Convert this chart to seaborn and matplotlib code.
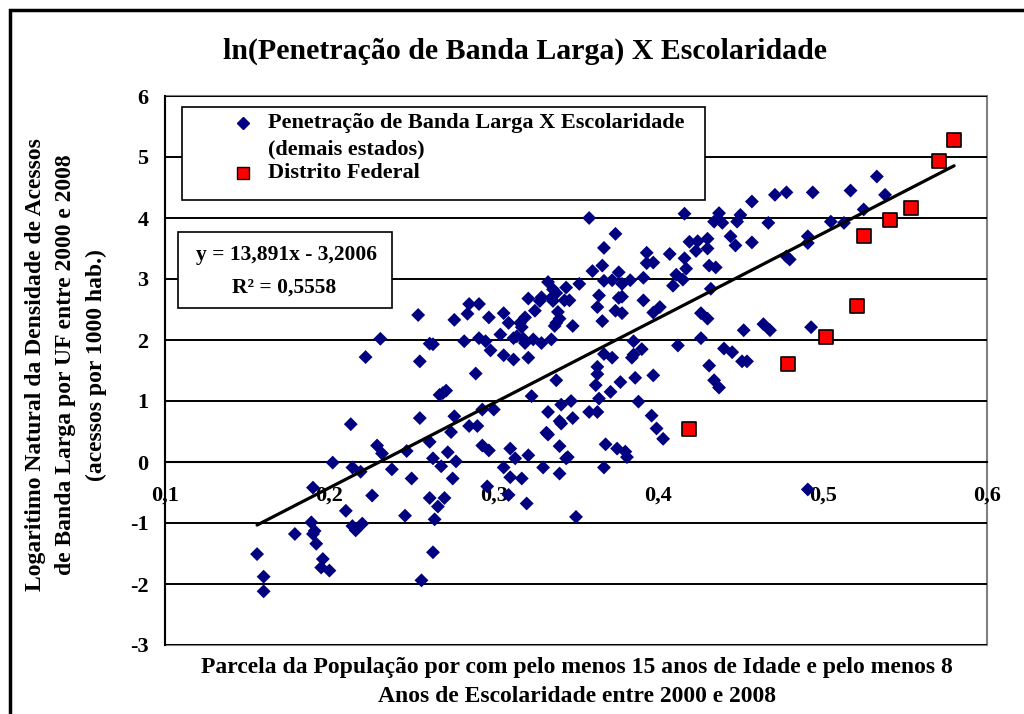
import matplotlib
matplotlib.use('Agg')
import matplotlib.pyplot as plt
import seaborn as sns
import numpy as np
from matplotlib.patches import Rectangle
from matplotlib.lines import Line2D

sns.set_style('white')
plt.rcParams['font.family'] = ['Liberation Serif', 'DejaVu Serif']
plt.rcParams['font.weight'] = 'bold'
plt.rcParams['axes.unicode_minus'] = False
plt.rcParams['text.color'] = 'black'
plt.rcParams['xtick.color'] = 'black'
plt.rcParams['ytick.color'] = 'black'

# demais estados: escolaridade (x) e ln da penetracao de banda larga (y)
escolaridade_estados = [
    0.213, 0.202, 0.214, 0.190, 0.210, 0.214, 0.216, 0.189, 0.179, 0.191, 0.190, 0.192, 0.156, 0.196, 0.195, 0.200, 0.160, 0.160,
    0.285, 0.291, 0.284, 0.297, 0.254, 0.276, 0.231, 0.261, 0.263, 0.282, 0.291, 0.295, 0.298, 0.222, 0.255, 0.289, 0.267, 0.269,
    0.271, 0.255, 0.276, 0.293, 0.300, 0.285, 0.290, 0.274, 0.229, 0.232, 0.247, 0.261, 0.272, 0.293, 0.297, 0.219, 0.238, 0.263,
    0.268, 0.277, 0.250, 0.275, 0.296, 0.226, 0.261, 0.266, 0.270, 0.246, 0.264, 0.220, 0.263, 0.256,
    0.358, 0.374, 0.367, 0.360, 0.366, 0.376, 0.333, 0.352, 0.344, 0.336, 0.338, 0.367, 0.372, 0.378, 0.383, 0.321, 0.329, 0.328,
    0.335, 0.336, 0.343, 0.346, 0.364, 0.376, 0.378,
    0.306, 0.309, 0.319, 0.325, 0.339, 0.340, 0.338, 0.337, 0.363, 0.366, 0.374, 0.378, 0.316, 0.317, 0.348, 0.304, 0.312, 0.314,
    0.318, 0.319, 0.324, 0.329, 0.335, 0.306, 0.312, 0.321, 0.367, 0.372, 0.385, 0.385, 0.384,
    0.363, 0.363, 0.362, 0.338, 0.377, 0.386, 0.371, 0.323, 0.364, 0.341, 0.347, 0.333, 0.358, 0.363, 0.340, 0.341, 0.348, 0.388,
    0.332, 0.333,
    0.310, 0.313, 0.321, 0.340, 0.345, 0.344, 0.368, 0.375, 0.380, 0.381, 0.306, 0.310, 0.317, 0.330, 0.340, 0.367, 0.309, 0.320,
    0.350,
    0.471, 0.478, 0.457, 0.416, 0.437, 0.434, 0.439, 0.450, 0.448, 0.467, 0.444, 0.447, 0.457, 0.419, 0.424, 0.430, 0.423, 0.430,
    0.393, 0.393, 0.397, 0.407, 0.416, 0.431, 0.435, 0.417, 0.478, 0.480, 0.411, 0.415, 0.391, 0.409, 0.432,
    0.391, 0.397, 0.401, 0.426, 0.430, 0.452, 0.464, 0.468, 0.426, 0.390, 0.412, 0.440, 0.445, 0.451, 0.454, 0.431, 0.397, 0.434,
    0.437, 0.396, 0.399, 0.403,
    0.494, 0.517, 0.533, 0.538, 0.505, 0.513, 0.525, 0.491, 0.491, 0.493, 0.491,
]
ln_banda_estados = [
    0.62, -0.01, -0.09, -0.42, -0.80, -1.05, -1.12, -0.99, -1.18, -1.13, -1.18, -1.34, -1.51, -1.59, -1.73, -1.78, -1.88, -2.12,
    2.59, 2.59, 2.43, 2.37, 2.41, 2.33, 2.02, 1.94, 1.93, 1.98, 2.03, 1.98, 1.83, 1.72, 1.65, 1.45, 1.10, 1.13,
    1.17, 0.72, 0.75, 0.86, 0.86, 0.59, 0.59, 0.49, 0.27, 0.14, 0.18, 0.33, 0.16, 0.27, 0.19, -0.16, -0.12, 0.06,
    -0.07, 0.01, -0.27, -0.27, -0.40, -0.55, -0.59, -0.73, -0.59, -0.88, -0.94, -1.01, -1.48, -1.94,
    4.00, 3.74, 3.51, 3.13, 3.22, 3.11, 2.95, 2.92, 2.86, 2.83, 2.77, 2.97, 2.98, 2.92, 2.98, 2.68, 2.70, 2.64,
    2.69, 2.64, 2.65, 2.65, 2.73, 2.69, 2.71,
    2.44, 2.28, 2.37, 2.48, 2.46, 2.35, 2.28, 2.23, 2.54, 2.31, 2.48, 2.44, 2.28, 2.21, 2.23, 2.09, 2.03, 2.06,
    2.02, 1.95, 2.01, 1.95, 2.01, 1.75, 1.68, 1.71, 1.77, 1.71, 1.98, 1.76, 1.71,
    1.56, 1.44, 1.26, 1.34, 1.31, 1.38, 1.15, 1.08, 1.04, 0.94, 1.00, 0.82, 0.82, 0.82, 0.67, 0.63, 0.72, 0.99,
    0.48, 0.45,
    0.22, 0.06, 0.11, 0.26, 0.08, 0.06, 0.29, 0.22, 0.17, 0.08, -0.09, -0.25, -0.27, -0.09, -0.19, -0.09, -0.54, -0.68,
    -0.90,
    4.38, 4.42, 4.27, 4.07, 4.08, 3.94, 3.92, 4.05, 3.94, 3.92, 3.70, 3.55, 3.60, 3.61, 3.62, 3.66, 3.46, 3.50,
    3.43, 3.26, 3.27, 3.41, 3.34, 3.22, 3.19, 3.17, 3.37, 3.32, 3.07, 2.99, 3.02, 2.89, 2.84,
    2.65, 2.45, 2.54, 2.44, 2.35, 2.16, 2.26, 2.16, 2.03, 1.85, 1.91, 1.86, 1.80, 1.65, 1.65, 1.58, 1.42, 1.34,
    1.22, 0.76, 0.55, 0.38,
    4.42, 4.45, 4.68, 4.38, 3.94, 3.92, 4.14, 3.70, 3.59, 2.21, -0.45,
]

# Distrito Federal
escolaridade_df = [0.419, 0.479, 0.502, 0.521, 0.525, 0.541, 0.554, 0.571, 0.580]
ln_banda_df = [0.54, 1.61, 2.05, 2.56, 3.70, 3.96, 4.17, 4.94, 5.28]

# linha de tendencia (Excel)
inclinacao = 13.891
intercepto = -3.2006
r2 = 0.5558

ticks_x = [0.1, 0.2, 0.3, 0.4, 0.5, 0.6]
rotulos_x = ['0,1', '0,2', '0,3', '0,4', '0,5', '0,6']
ticks_y = [-3, -2, -1, 0, 1, 2, 3, 4, 5, 6]

titulo = 'ln(Penetração de Banda Larga) X Escolaridade'
rotulo_x = ('Parcela da População por com pelo menos 15 anos de Idade e pelo menos 8\n'
            'Anos de Escolaridade entre 2000 e 2008')
rotulo_y = ('Logaritimo Natural da Densidade de Acessos\n'
            'de Banda Larga por UF entre 2000 e 2008\n'
            '(acessos por 1000 hab.)')
legenda_estados = 'Penetração de Banda Larga X Escolaridade'
legenda_estados2 = '(demais estados)'
legenda_df = 'Distrito Federal'

W, H = 1024, 714


def fx(px):
    return px / W


def fy(py):
    return 1 - py / H


fig = plt.figure(figsize=(W / 100, H / 100), dpi=100)
ax = fig.add_axes([fx(165), fy(645), 822 / W, 549 / H])

ax.yaxis.grid(True, color='black', linewidth=1.4)
ax.xaxis.grid(False)
ax.set_axisbelow(True)

sns.scatterplot(x=escolaridade_estados, y=ln_banda_estados, marker='D', color='#000080',
                s=50, edgecolor='none', ax=ax, zorder=3)
sns.scatterplot(x=escolaridade_df, y=ln_banda_df, marker='s', color='red',
                s=100, edgecolor='black', linewidth=1.2, ax=ax, zorder=4)

todos_x = np.array(escolaridade_estados + escolaridade_df)
xs = np.array([todos_x.min(), todos_x.max()])
sns.lineplot(x=xs, y=inclinacao * xs + intercepto, color='black', linewidth=2.3, ax=ax, zorder=5)

ax.set_xlim(0.1, 0.6)
ax.set_ylim(-3, 6)
ax.set_xticks(ticks_x, labels=rotulos_x)
ax.set_yticks(ticks_y)

for lado in ['top', 'right']:
    ax.spines[lado].set_visible(False)
ax.spines['left'].set_color('black')
ax.spines['left'].set_linewidth(1.5)
ax.spines['bottom'].set_position(('data', 0))
ax.spines['bottom'].set_color('black')
ax.spines['bottom'].set_linewidth(1.5)
ax.add_patch(Rectangle((0, 0), 1, 1, transform=ax.transAxes, fill=False,
                       edgecolor='#808080', linewidth=1.5, clip_on=False, zorder=0.5))

ax.tick_params(axis='y', direction='out', length=7, width=1.3, labelsize=16, pad=5)
ax.tick_params(axis='x', direction='out', length=7, width=1.3, labelsize=16, pad=10)
ax.set_xlabel('')
ax.set_ylabel('')

# titulo e rotulos dos eixos
fig.text(fx(525), fy(51), titulo, ha='center', va='center', fontsize=21.5)
fig.text(fx(577), fy(682), rotulo_x, ha='center', va='center', fontsize=17, linespacing=1.55)
fig.text(fx(66), fy(365), rotulo_y, ha='center', va='center', rotation=90,
         fontsize=17, linespacing=1.6, multialignment='center')

# legenda
fig.add_artist(Rectangle((fx(182), fy(200)), 523 / W, 93 / H, transform=fig.transFigure,
                         facecolor='white', edgecolor='black', linewidth=1.2, zorder=5))
fig.add_artist(Line2D([fx(243)], [fy(123)], marker='D', color='#000080', markersize=6.5,
                      linestyle='none', transform=fig.transFigure, zorder=6))
fig.add_artist(Line2D([fx(243)], [fy(173)], marker='s', markerfacecolor='red', markeredgecolor='black',
                      markersize=9, linestyle='none', transform=fig.transFigure, zorder=6))
fig.text(fx(268), fy(123), legenda_estados, va='center', fontsize=16, zorder=7)
fig.text(fx(268), fy(149), legenda_estados2, va='center', fontsize=16, zorder=7)
fig.text(fx(268), fy(173), legenda_df, va='center', fontsize=16, zorder=7)

# caixa da equacao
fig.add_artist(Rectangle((fx(178), fy(308)), 214 / W, 76 / H, transform=fig.transFigure,
                         facecolor='white', edgecolor='black', linewidth=1.2, zorder=5))
equacao = f'y = {inclinacao:.3f}x - {abs(intercepto):.4f}'.replace('.', ',')
fig.text(fx(286), fy(255), equacao, ha='center', va='center', fontsize=15.5, zorder=7)
fig.text(fx(284), fy(288), f'R² = {r2:.4f}'.replace('.', ','), ha='center', va='center', fontsize=15.5, zorder=7)

# moldura externa
fig.add_artist(Rectangle((fx(10), -0.05), 1.1, fy(10) + 0.05, transform=fig.transFigure,
                         fill=False, edgecolor='black', linewidth=2.5, zorder=8))

plt.savefig('out.png', dpi=100)
